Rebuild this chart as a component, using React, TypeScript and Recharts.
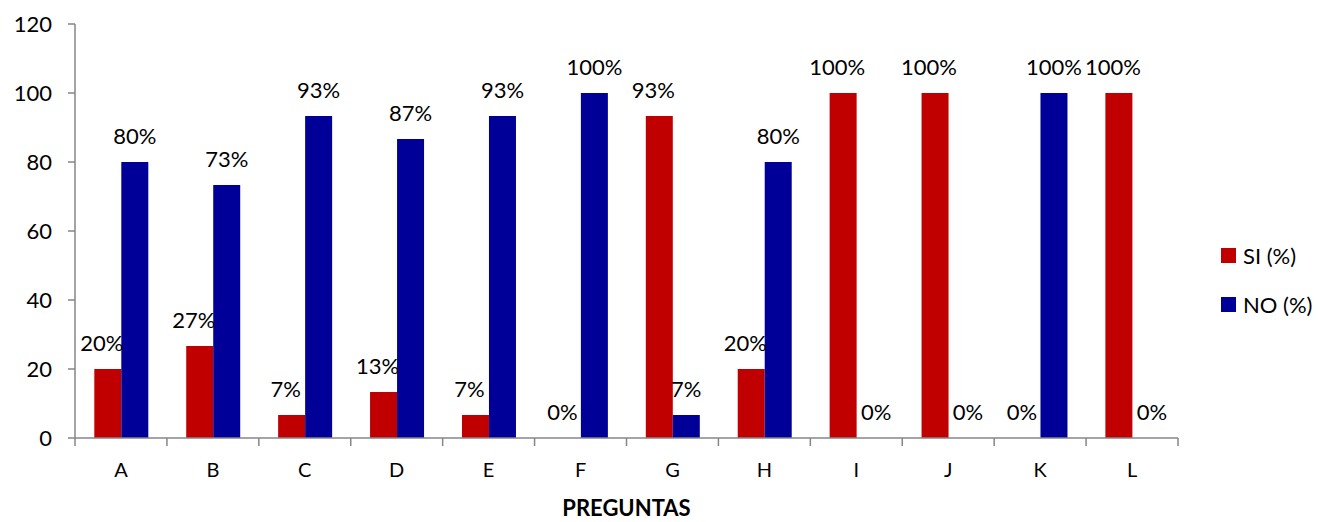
import { BarChart, Bar, XAxis, YAxis, Legend, LabelList } from "recharts";

const preguntas = ["A", "B", "C", "D", "E", "F", "G", "H", "I", "J", "K", "L"];
const si = [20, 26.67, 6.67, 13.33, 6.67, 0, 93.33, 20, 100, 100, 0, 100];
const no = [80, 73.33, 93.33, 86.67, 93.33, 100, 6.67, 80, 0, 0, 100, 0];
const yTicks = [0, 20, 40, 60, 80, 100, 120];

const RED = "#C00000";
const BLUE = "#000099";
const AXIS = "#868686";
const FONT = "Lato, 'Open Sans', sans-serif";

const data = preguntas.map((p, i) => ({ name: p, si: si[i], no: no[i] }));

function CategoryTick(props: any) {
  const { x, y, payload, index, width, visibleTicksCount } = props;
  const count = visibleTicksCount || preguntas.length;
  const bw = width / count;
  return (
    <g>
      <line x1={x - bw / 2} x2={x - bw / 2} y1={y} y2={y + 8} stroke={AXIS} strokeWidth={1.5} />
      {index === count - 1 && (
        <line x1={x + bw / 2} x2={x + bw / 2} y1={y} y2={y + 8} stroke={AXIS} strokeWidth={1.5} />
      )}
      <text x={x} y={y + 39} textAnchor="middle" fontSize={20} fontFamily={FONT} fill="#000">
        {payload.value}
      </text>
    </g>
  );
}

const makeLabel = (dx: number, dxZero: number) => (props: any) => {
  const { x, y, width, value } = props;
  const shift = value === 0 ? dxZero : dx;
  return (
    <text x={x + width / 2 + shift} y={y - 18} textAnchor="middle" fontSize={22} fontFamily={FONT} fill="#000">
      {Math.round(value) + "%"}
    </text>
  );
};

// keeps zero bars in the label list without drawing a visible bar
const zeroKeep = (value: any) => (value === 0 ? 0.01 : 0);

function LegendBox() {
  const items = [
    { label: "SI (%)", color: RED },
    { label: "NO (%)", color: BLUE },
  ];
  return (
    <div style={{ fontFamily: FONT, fontSize: 22 }}>
      {items.map((it) => (
        <div key={it.label} style={{ display: "flex", alignItems: "center", height: 49 }}>
          <span style={{ display: "inline-block", width: 15, height: 15, background: it.color, marginRight: 7 }} />
          <span>{it.label}</span>
        </div>
      ))}
    </div>
  );
}

export default function App() {
  return (
    <div style={{ width: 1312, height: 514, background: "#fff" }}>
      <BarChart
        width={1312}
        height={514}
        data={data}
        barCategoryGap="21%"
        barGap={0}
        margin={{ top: 16, right: 42, left: 0, bottom: 0 }}
      >
        <XAxis
          dataKey="name"
          height={84}
          stroke={AXIS}
          strokeWidth={1.5}
          tickLine={false}
          tickSize={0}
          tickMargin={0}
          tick={<CategoryTick />}
          interval={0}
          label={{
            value: "PREGUNTAS",
            position: "insideBottom",
            offset: 6,
            style: { fontFamily: FONT, fontSize: 22, fontWeight: 700, fill: "#000" },
          }}
        />
        <YAxis
          width={67}
          domain={[0, 120]}
          ticks={yTicks}
          interval={0}
          stroke={AXIS}
          strokeWidth={1.5}
          tickSize={7}
          tickMargin={16}
          tick={{ fontFamily: FONT, fontSize: 22, fill: "#000" }}
        />
        <Legend
          layout="vertical"
          align="right"
          verticalAlign="middle"
          content={<LegendBox />}
          wrapperStyle={{ left: 1213, top: 223, width: 100 }}
        />
        <Bar dataKey="si" name="SI (%)" fill={RED} minPointSize={zeroKeep} isAnimationActive={false}>
          <LabelList dataKey="si" content={makeLabel(-6, -5)} />
        </Bar>
        <Bar dataKey="no" name="NO (%)" fill={BLUE} minPointSize={zeroKeep} isAnimationActive={false}>
          <LabelList dataKey="no" content={makeLabel(0, 6)} />
        </Bar>
      </BarChart>
    </div>
  );
}
